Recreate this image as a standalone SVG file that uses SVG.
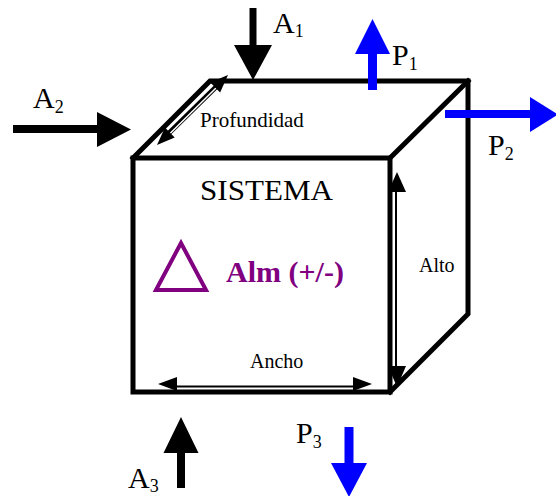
<svg xmlns="http://www.w3.org/2000/svg" width="556" height="496" viewBox="0 0 556 496">
<style>
.edge{fill:none;stroke:#000;stroke-width:5;stroke-linejoin:miter;stroke-linecap:square}
.blk{fill:#000}
.blu{fill:#0000FF}
.lbl{font-family:"Liberation Serif","Times New Roman",serif;fill:#000}
.big{font-size:30px}
.sub{font-size:18px}
.dim{font-size:20px}
</style>
<rect width="556" height="496" fill="#fff"/>
<g id="cube">
<path class="edge" d="M133,158 L390,158 L390,392 L133,392 Z"/>
<path class="edge" d="M133,158 L210,81 L468,81 L468,314 L390,392"/>
<path class="edge" d="M390,158 L468,81"/>
</g>
<g id="dimensions">
<g id="profundidad">
<line x1="168" y1="134" x2="217" y2="86" stroke="#000" stroke-width="5"/>
<line x1="169" y1="134.5" x2="216" y2="88" stroke="#fff" stroke-width="1.5"/>
<polygon class="blk" points="157,145 174.7,137.4 164.9,127.4"/>
<polygon class="blk" points="228,75 220.1,92.6 210.3,82.6"/>
<text class="lbl" x="200" y="127" font-size="21">Profundidad</text>
</g>
<g id="alto">
<line x1="396" y1="190" x2="396" y2="368" stroke="#000" stroke-width="2"/>
<polygon class="blk" points="397,172 388,192 406,192"/>
<polygon class="blk" points="397,387 388,366 406,366"/>
<text class="lbl" x="419" y="272" font-size="20">Alto</text>
</g>
<g id="ancho">
<line x1="175" y1="386.5" x2="355" y2="386.5" stroke="#000" stroke-width="2"/>
<polygon class="blk" points="158,384 177,377 177,391"/>
<polygon class="blk" points="372,384 353,377 353,391"/>
<text class="lbl dim" x="250" y="368">Ancho</text>
</g>
</g>
<g id="sistema">
<text class="lbl" x="200" y="200" font-size="30" textLength="133" lengthAdjust="spacingAndGlyphs">SISTEMA</text>
<polygon points="156,290 181,243 206,290" fill="none" stroke="#800080" stroke-width="4"/>
<text x="226" y="282" font-family="'Liberation Serif','Times New Roman',serif" font-size="30" font-weight="bold" fill="#800080">Alm (+/-)</text>
</g>
<g id="connectors">
<polygon id="arrowA1" class="blk" points="249.5,8 256.5,8 256.5,45 272,45 253,80 234,45 249.5,45"/>
<polygon id="arrowA2" class="blk" points="13,125 97,125 97,112 131,129.5 97,147 97,133 13,133"/>
<polygon id="arrowA3" class="blk" points="177,488 185,488 185,453 198.5,453 181,417 163.5,453 177,453"/>
<polygon id="arrowP1" class="blu" points="368,90 377,90 377,54 390,54 372.5,19 355,54 368,54"/>
<polygon id="arrowP2" class="blu" points="445,110 530,110 530,97 558,114.5 530,132 530,118 445,118"/>
<polygon id="arrowP3" class="blu" points="344.5,427 353.5,427 353.5,463 367,463 349,497 331,463 344.5,463"/>
</g>
<g id="labels">
<text class="lbl big" x="273" y="33">A<tspan class="sub" dy="4">1</tspan></text>
<text class="lbl big" x="33" y="108">A<tspan class="sub" dy="5">2</tspan></text>
<text class="lbl big" x="128" y="488">A<tspan class="sub" dy="4">3</tspan></text>
<text class="lbl big" x="392" y="65">P<tspan class="sub" dy="5">1</tspan></text>
<text class="lbl big" x="488" y="155">P<tspan class="sub" dy="5">2</tspan></text>
<text class="lbl big" x="296" y="443">P<tspan class="sub" dy="5">3</tspan></text>
</g>
</svg>
